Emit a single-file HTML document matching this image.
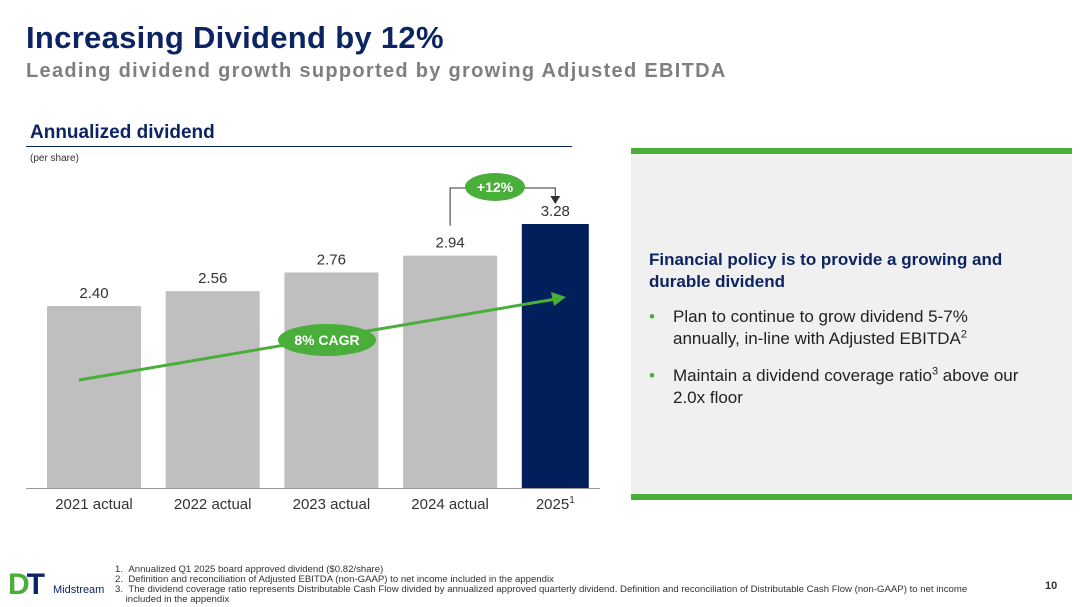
<!DOCTYPE html>
<html><head><meta charset="utf-8"><style>
body{margin:0;width:1083px;height:607px;background:#fff;font-family:"Liberation Sans",sans-serif;position:relative;overflow:hidden}
.a{position:absolute}
</style></head><body>
<div class="a" style="left:26px;top:20px;font-size:31px;font-weight:bold;color:#0c2461;letter-spacing:0.3px">Increasing Dividend by 12%</div>
<div class="a" style="left:26px;top:60px;font-size:20px;font-weight:bold;color:#7f7f7f;letter-spacing:1.3px">Leading dividend growth supported by growing Adjusted EBITDA</div>
<div class="a" style="left:30px;top:122px;font-size:19px;font-weight:bold;color:#0c2461">Annualized dividend</div>
<div class="a" style="left:26px;top:146px;width:546px;height:1px;background:#0c2461"></div>
<div class="a" style="left:30px;top:153px;font-size:10px;color:#333">(per share)</div>
<svg class="a" style="left:0;top:0" width="620" height="530" id="ch"></svg>
<div class="a" style="left:631px;top:148px;width:441px;height:352px;background:#f0f0f0;border-top:6px solid #4aae3a;border-bottom:6px solid #4aae3a;box-sizing:border-box">
<div style="position:absolute;left:18px;top:95px;width:400px;font-size:17px;font-weight:bold;color:#0c2461;line-height:22px">Financial policy is to provide a growing and durable dividend</div>
<div style="position:absolute;left:18px;top:152px;width:380px;font-size:17px;color:#222;line-height:22px;padding-left:24px;box-sizing:border-box"><span style="position:absolute;left:0;color:#4aae3a">•</span>Plan to continue to grow dividend 5-7% annually, in-line with Adjusted EBITDA<sup style="font-size:11px;line-height:0">2</sup></div>
<div style="position:absolute;left:18px;top:211px;width:380px;font-size:17px;color:#222;line-height:22px;padding-left:24px;box-sizing:border-box"><span style="position:absolute;left:0;color:#4aae3a">•</span>Maintain a dividend coverage ratio<sup style="font-size:11px;line-height:0">3</sup> above our 2.0x floor</div>
</div>
<div class="a" style="left:8px;top:570px;font-size:30px;font-weight:900;color:#0c2461;letter-spacing:-3px;line-height:30px"><span style="color:#4aae3a">D</span>T</div>
<div class="a" style="left:53px;top:584px;font-size:11px;color:#0c2461">Midstream</div>
<div class="a" style="left:115px;top:565px;font-size:9.6px;color:#333;line-height:10px;width:900px">
<div>1.&nbsp;&nbsp;Annualized Q1 2025 board approved dividend ($0.82/share)</div>
<div>2.&nbsp;&nbsp;Definition and reconciliation of Adjusted EBITDA (non-GAAP) to net income included in the appendix</div>
<div>3.&nbsp;&nbsp;The dividend coverage ratio represents Distributable Cash Flow divided by annualized approved quarterly dividend. Definition and reconciliation of Distributable Cash Flow (non-GAAP) to net income<br>&nbsp;&nbsp;&nbsp;&nbsp;included in the appendix</div></div>
<div class="a" style="left:1045px;top:580px;font-size:11px;font-weight:bold;color:#333">10</div>
<script>
const categories=["2021 actual","2022 actual","2023 actual","2024 actual","2025"];
const values=[2.40,2.56,2.76,2.94,3.28];
const valueLabels=["2.40","2.56","2.76","2.94","3.28"];
const ns="http://www.w3.org/2000/svg",svg=document.getElementById('ch');
const base=488;
function y(v){return 529.7-v*93.2;}
function x(i){return 47+i*118.7;}
function mk(t,a,txt,par){const e=document.createElementNS(ns,t);for(const k in a)e.setAttribute(k,a[k]);if(txt!=null)e.textContent=txt;(par||svg).appendChild(e);return e;}
values.forEach((v,i)=>{
 const w=i==4?67:94, cx=x(i)+w/2;
 const r=mk('rect',{x:x(i),y:y(v),width:w,height:base-y(v),fill:i==4?'#001f5b':'#bfbfbf'});
 
 
 const t=mk('text',{x:cx,y:y(v)-8,'text-anchor':'middle','font-size':15,fill:'#333'},valueLabels[i]);
 
 
 const c=mk('text',{x:cx,y:509,'text-anchor':'middle','font-size':15,fill:'#333'},categories[i]);
 
 
 if(i==4){mk('tspan',{'font-size':10,dy:-6},'1',c);}
});
const ax=mk('line',{x1:26,y1:base+0.5,x2:600,y2:base+0.5,stroke:'#999'});


const ar=mk('line',{x1:79,y1:380,x2:556,y2:299,stroke:'#4aae3a','stroke-width':3});


mk('polygon',{points:'566,297 551,292 554,306',fill:'#4aae3a'});
const ce=mk('ellipse',{cx:327,cy:340,rx:49,ry:16,fill:'#4aae3a'});


mk('text',{x:327,y:345,'text-anchor':'middle','font-size':14,'font-weight':'bold',fill:'#fff'},'8% CAGR');
const xa=x(3)+47,xb=x(4)+33.5;
const br=mk('polyline',{points:`${xa},${y(values[3])-30} ${xa},188 ${xb},188 ${xb},198`,fill:'none',stroke:'#333','stroke-width':1});


mk('polygon',{points:`${xb-5},196 ${xb+5},196 ${xb},204`,fill:'#333'});
const ge=mk('ellipse',{cx:495,cy:187,rx:30,ry:14,fill:'#4aae3a'});


mk('text',{x:495,y:192,'text-anchor':'middle','font-size':14,'font-weight':'bold',fill:'#fff'},'+12%');
</script>
</body></html>
